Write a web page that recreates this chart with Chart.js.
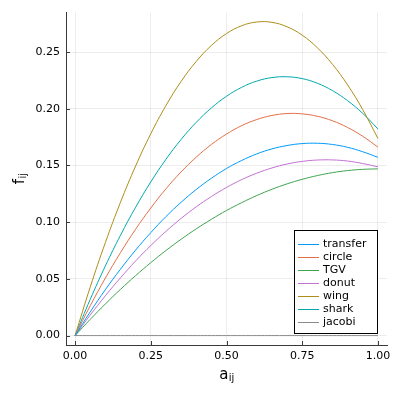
<!DOCTYPE html>
<html>
<head>
<meta charset="utf-8">
<script src="https://cdn.jsdelivr.net/npm/chart.js@4"></script>
<style>
html,body{margin:0;padding:0;background:#fff;}
#wrap{width:399px;height:400px;position:relative;}
</style>
</head>
<body>
<div id="wrap"><canvas id="c" width="399" height="400"></canvas></div>
<script>
const aValues = [0, 0.05, 0.1, 0.15, 0.2, 0.25, 0.3, 0.35, 0.4, 0.45, 0.5, 0.55, 0.6, 0.65, 0.7, 0.75, 0.8, 0.85, 0.9, 0.95, 1.0];
const transfer = [0, 0.0209, 0.0405, 0.0586, 0.0754, 0.0908, 0.1049, 0.1175, 0.1288, 0.1387, 0.1473, 0.1544, 0.1602, 0.1646, 0.1676, 0.1693, 0.1696, 0.1685, 0.1660, 0.1621, 0.1572];
const circle = [0, 0.0263, 0.0507, 0.0732, 0.0938, 0.1125, 0.1294, 0.1443, 0.1573, 0.1685, 0.1777, 0.1851, 0.1905, 0.1941, 0.1958, 0.1955, 0.1934, 0.1894, 0.1835, 0.1757, 0.1662];
const TGV = [0, 0.0143, 0.0279, 0.0408, 0.0529, 0.0643, 0.0750, 0.0849, 0.0941, 0.1025, 0.1103, 0.1172, 0.1235, 0.1290, 0.1338, 0.1378, 0.1411, 0.1437, 0.1455, 0.1466, 0.1470];
const donut = [0, 0.0181, 0.0351, 0.0510, 0.0658, 0.0794, 0.0919, 0.1033, 0.1135, 0.1226, 0.1306, 0.1375, 0.1432, 0.1478, 0.1513, 0.1536, 0.1548, 0.1549, 0.1539, 0.1517, 0.1488];
const wing = [0, 0.0428, 0.0820, 0.1176, 0.1496, 0.1780, 0.2028, 0.2241, 0.2417, 0.2558, 0.2663, 0.2732, 0.2765, 0.2762, 0.2723, 0.2649, 0.2538, 0.2392, 0.2210, 0.1992, 0.1738];
const shark = [0, 0.0319, 0.0614, 0.0885, 0.1132, 0.1355, 0.1554, 0.1729, 0.1880, 0.2007, 0.2110, 0.2189, 0.2244, 0.2275, 0.2282, 0.2266, 0.2225, 0.2160, 0.2071, 0.1959, 0.1822];
const jacobi = [0, 0, 0, 0, 0, 0, 0, 0, 0, 0, 0, 0, 0, 0, 0, 0, 0, 0, 0, 0, 0];

const seriesNames = ['transfer', 'circle', 'TGV', 'donut', 'wing', 'shark', 'jacobi'];
const seriesValues = [transfer, circle, TGV, donut, wing, shark, jacobi];
const seriesColors = ['#009AFA', '#E36F47', '#3EA44E', '#C371D2', '#AC8E18', '#00A9AD', '#8A8A8A'];

const xTicks = [0, 0.25, 0.5, 0.75, 1.0];
const yTicks = [0, 0.05, 0.10, 0.15, 0.20, 0.25];
const xTitleMain = 'a', xTitleSub = 'ij';
const yTitleMain = 'f', yTitleSub = 'ij';

const FONT = '"DejaVu Sans", sans-serif';
const SPINE = '#3a3a3a';

const datasets = seriesNames.map((name, i) => ({
  label: name,
  data: aValues.map((a, j) => ({x: a, y: seriesValues[i][j]})),
  borderColor: seriesColors[i],
  backgroundColor: seriesColors[i],
  borderWidth: 1,
  pointRadius: 0,
  tension: 0.4,
  fill: false
}));

const decor = {
  id: 'decor',
  afterDatasetsDraw(chart) {
    const ctx = chart.ctx;
    const ca = chart.chartArea;
    const xs = chart.scales.x, ys = chart.scales.y;
    ctx.save();
    // inward ticks
    ctx.strokeStyle = SPINE;
    ctx.lineWidth = 1;
    ctx.beginPath();
    yTicks.forEach(v => {
      const py = Math.round(ys.getPixelForValue(v)) + 0.5;
      ctx.moveTo(ca.left, py); ctx.lineTo(ca.left + 4, py);
    });
    xTicks.forEach(v => {
      const px = Math.round(xs.getPixelForValue(v)) + 0.5;
      ctx.moveTo(px, ca.bottom); ctx.lineTo(px, ca.bottom - 4);
    });
    ctx.stroke();

    // legend
    const bx = 294.5, by = 230.5, bw = 83, bh = 103;
    ctx.fillStyle = '#ffffff';
    ctx.fillRect(bx, by, bw, bh);
    ctx.strokeStyle = '#000000';
    ctx.lineWidth = 1;
    ctx.strokeRect(bx, by, bw, bh);
    ctx.font = '11px ' + FONT;
    ctx.textBaseline = 'middle';
    ctx.textAlign = 'left';
    seriesNames.forEach((name, i) => {
      const cy = Math.round(243.7 + i * 13.05) + 0.5;
      ctx.strokeStyle = seriesColors[i];
      ctx.beginPath();
      ctx.moveTo(298, cy); ctx.lineTo(319, cy);
      ctx.stroke();
      ctx.fillStyle = '#000';
      ctx.fillText(name, 323, cy);
    });

    // axis titles
    ctx.fillStyle = '#000';
    ctx.textBaseline = 'alphabetic';
    const mainFont = '15px ' + FONT, subFont = '10px ' + FONT;
    ctx.font = mainFont; const wa = ctx.measureText(xTitleMain).width;
    ctx.font = subFont; const wsx = ctx.measureText(xTitleSub).width;
    const cx = (ca.left + ca.right) / 2;
    const x0 = cx - (wa + wsx) / 2;
    ctx.font = mainFont; ctx.fillText(xTitleMain, x0, 379);
    ctx.font = subFont; ctx.fillText(xTitleSub, x0 + wa + 0.5, 381);

    ctx.save();
    const cyT = (ca.top + ca.bottom) / 2;
    ctx.translate(24, cyT);
    ctx.rotate(-Math.PI / 2);
    ctx.font = mainFont; const wf = ctx.measureText(yTitleMain).width;
    ctx.font = subFont; const wsy = ctx.measureText(yTitleSub).width;
    const y0 = -(wf + wsy) / 2;
    ctx.font = mainFont; ctx.fillText(yTitleMain, y0, 0);
    ctx.font = subFont; ctx.fillText(yTitleSub, y0 + wf + 0.5, 2);
    ctx.restore();

    ctx.restore();
  }
};

new Chart(document.getElementById('c'), {
  type: 'line',
  data: { datasets },
  options: {
    responsive: false,
    animation: false,
    devicePixelRatio: 1,
    layout: { padding: { top: 12, right: 12, left: 0, bottom: 0 } },
    plugins: { legend: { display: false }, tooltip: { enabled: false } },
    scales: {
      x: {
        type: 'linear',
        min: -0.03, max: 1.03,
        afterBuildTicks: s => { s.ticks = xTicks.map(v => ({value: v})); },
        afterFit: s => { s.height = 55; },
        ticks: {
          font: { family: FONT, size: 11 }, color: '#000', padding: 5,
          maxRotation: 0,
          callback: v => Number(v).toFixed(2)
        },
        grid: { color: 'rgba(0,0,0,0.07)', lineWidth: 1, drawTicks: false },
        border: { display: true, color: SPINE, width: 1 }
      },
      y: {
        type: 'linear',
        min: -0.0083, max: 0.2848,
        afterBuildTicks: s => { s.ticks = yTicks.map(v => ({value: v})); },
        afterFit: s => { s.width = 66; },
        ticks: {
          font: { family: FONT, size: 11 }, color: '#000', padding: 6,
          callback: v => Number(v).toFixed(2)
        },
        grid: { color: 'rgba(0,0,0,0.07)', lineWidth: 1, drawTicks: false },
        border: { display: true, color: SPINE, width: 1 }
      }
    }
  },
  plugins: [decor]
});
</script>
</body>
</html>
